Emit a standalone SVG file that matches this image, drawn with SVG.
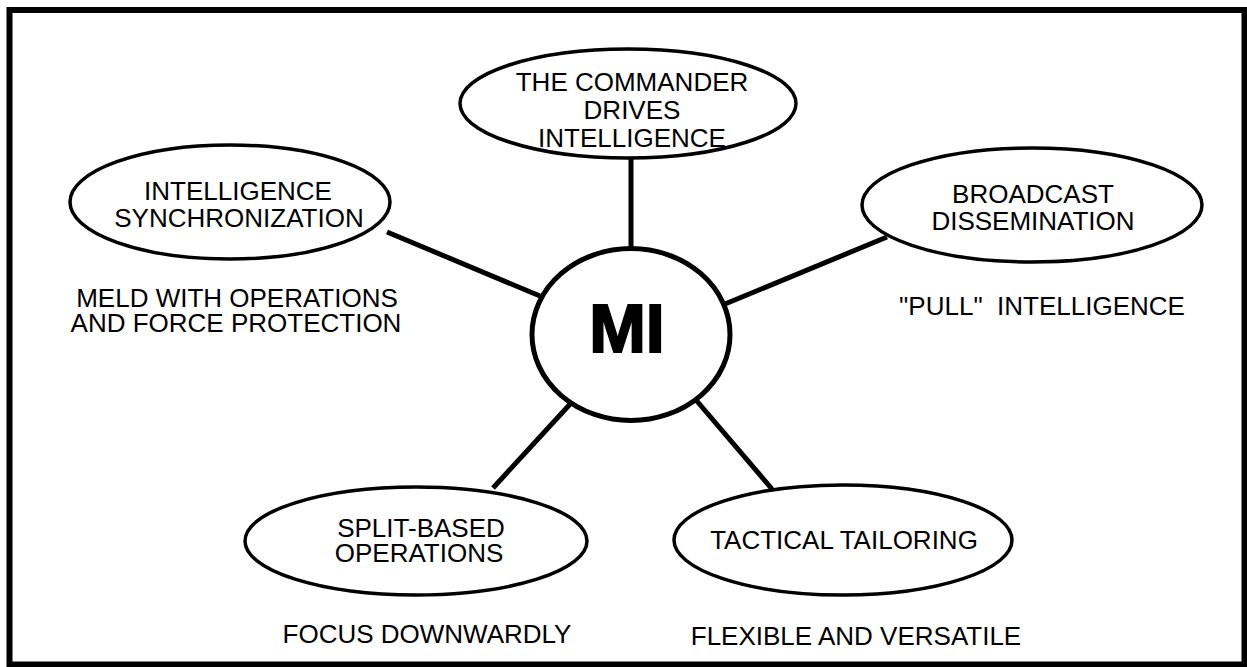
<svg xmlns="http://www.w3.org/2000/svg" width="1247" height="667" viewBox="0 0 1247 667">
<style>
  .bg { fill: #ffffff; }
  .frame { fill: none; stroke: #000; stroke-width: 6; }
  .node { fill: #fff; stroke: #000; stroke-width: 3.5; }
  .hub { fill: #fff; stroke: #000; stroke-width: 5; }
  .conn line { stroke: #000; stroke-width: 5; stroke-linecap: butt; }
  .t { font-family: "Liberation Sans", Arial, Helvetica, sans-serif; font-size: 26px; fill: #000; text-anchor: middle; white-space: pre; }
  .mi { font-family: "Liberation Sans", Arial, Helvetica, sans-serif; font-size: 68px; font-weight: bold; fill: #000; stroke: #000; stroke-width: 2; stroke-linejoin: miter; text-anchor: middle; }
</style>
<rect class="bg" x="0" y="0" width="1247" height="667"/>
<rect class="frame" x="9.5" y="10" width="1235" height="654.5"/>

<g id="connectors" class="conn">
  <line x1="631" y1="157" x2="631" y2="250"/>
  <line x1="387" y1="232" x2="540" y2="296"/>
  <line x1="887" y1="237" x2="725" y2="304"/>
  <line x1="572" y1="402" x2="493" y2="488"/>
  <line x1="696" y1="400" x2="772" y2="489"/>
</g>

<g id="hub-mi">
  <ellipse class="hub" cx="631" cy="334.5" rx="99" ry="86"/>
  <text class="mi" x="627" y="352">MI</text>
</g>

<g id="node-commander">
  <ellipse class="node" cx="628" cy="103.5" rx="168" ry="54.5"/>
  <text class="t"><tspan x="632" y="91">THE COMMANDER</tspan><tspan x="632" y="119">DRIVES</tspan><tspan x="632" y="147">INTELLIGENCE</tspan></text>
</g>

<g id="node-sync">
  <ellipse class="node" cx="230" cy="202" rx="160" ry="57"/>
  <text class="t"><tspan x="238" y="200">INTELLIGENCE</tspan><tspan x="239" y="227">SYNCHRONIZATION</tspan></text>
</g>

<g id="note-sync">
  <text class="t"><tspan x="237" y="307">MELD WITH OPERATIONS</tspan><tspan x="236" y="332">AND FORCE PROTECTION</tspan></text>
</g>

<g id="node-broadcast">
  <ellipse class="node" cx="1032" cy="205" rx="170" ry="57"/>
  <text class="t"><tspan x="1033" y="203">BROADCAST</tspan><tspan x="1033" y="230">DISSEMINATION</tspan></text>
</g>

<g id="note-broadcast">
  <text class="t" x="1042" y="315">"PULL"  INTELLIGENCE</text>
</g>

<g id="node-split">
  <ellipse class="node" cx="416" cy="541" rx="171" ry="54"/>
  <text class="t"><tspan x="421" y="537">SPLIT-BASED</tspan><tspan x="419" y="562">OPERATIONS</tspan></text>
</g>

<g id="note-split">
  <text class="t" x="427" y="643">FOCUS DOWNWARDLY</text>
</g>

<g id="node-tactical">
  <ellipse class="node" cx="843" cy="540" rx="169" ry="55"/>
  <text class="t" x="844" y="549">TACTICAL TAILORING</text>
</g>

<g id="note-tactical">
  <text class="t" x="856" y="645">FLEXIBLE AND VERSATILE</text>
</g>
</svg>
